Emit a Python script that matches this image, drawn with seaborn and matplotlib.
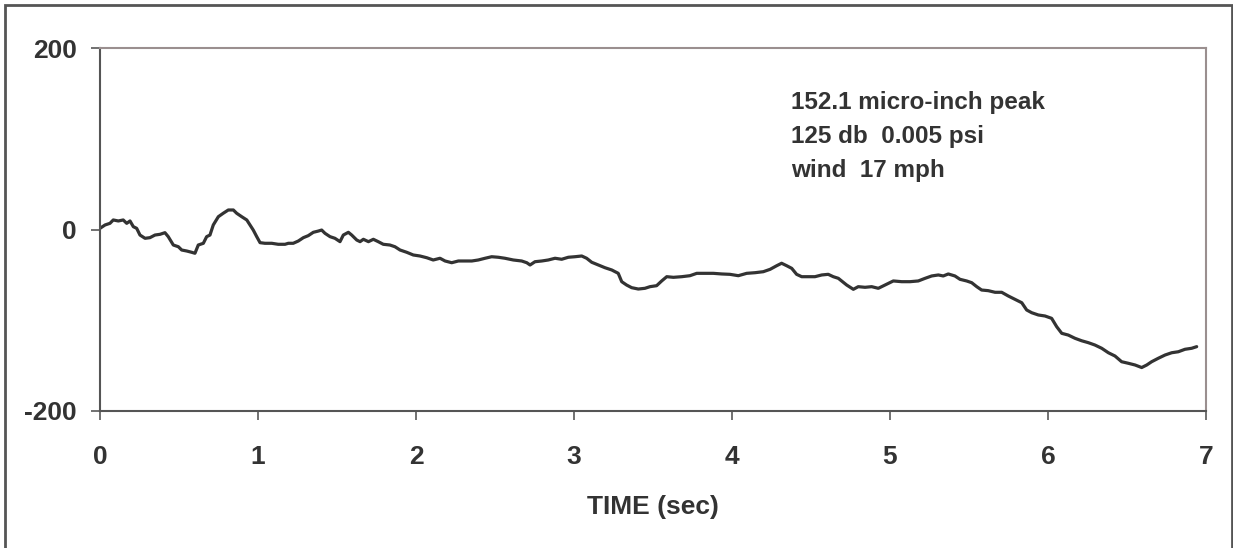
import matplotlib
matplotlib.use("Agg")
import matplotlib.pyplot as plt
import seaborn as sns
import pandas as pd
from matplotlib.patches import Rectangle

# ---- data ----
time_s = [
    0.000, 0.032, 0.063, 0.084, 0.116, 0.147, 0.169, 0.190, 0.211, 0.232,
    0.253, 0.285, 0.316, 0.348, 0.380, 0.411, 0.432, 0.464, 0.496, 0.517,
    0.549, 0.580, 0.601, 0.622, 0.654, 0.675, 0.696, 0.717, 0.749, 0.780,
    0.812, 0.844, 0.865, 0.897, 0.929, 0.949, 0.970, 0.992, 1.013, 1.044,
    1.087, 1.128, 1.171, 1.192, 1.223, 1.255, 1.287, 1.318, 1.350, 1.382,
    1.403, 1.424, 1.456, 1.487, 1.519, 1.540, 1.572, 1.593, 1.625, 1.646,
    1.667, 1.699, 1.730, 1.761, 1.793, 1.835, 1.867, 1.899, 1.941, 1.983,
    2.025, 2.068, 2.109, 2.152, 2.184, 2.226, 2.268, 2.310, 2.353, 2.394,
    2.437, 2.479, 2.521, 2.563, 2.616, 2.669, 2.701, 2.722, 2.753, 2.796,
    2.837, 2.880, 2.922, 2.964, 3.006, 3.049, 3.080, 3.112, 3.154, 3.196,
    3.239, 3.280, 3.302, 3.333, 3.365, 3.407, 3.449, 3.481, 3.523, 3.555,
    3.587, 3.629, 3.682, 3.734, 3.777, 3.829, 3.882, 3.935, 3.987, 4.040,
    4.093, 4.146, 4.198, 4.241, 4.283, 4.314, 4.346, 4.378, 4.409, 4.441,
    4.483, 4.525, 4.568, 4.609, 4.641, 4.673, 4.726, 4.768, 4.799, 4.842,
    4.884, 4.926, 4.968, 5.021, 5.074, 5.127, 5.179, 5.222, 5.264, 5.306,
    5.337, 5.369, 5.411, 5.443, 5.485, 5.517, 5.549, 5.580, 5.622, 5.665,
    5.707, 5.749, 5.791, 5.834, 5.865, 5.897, 5.939, 5.981, 6.023, 6.055,
    6.087, 6.128, 6.171, 6.213, 6.255, 6.297, 6.340, 6.382, 6.424, 6.466,
    6.508, 6.551, 6.593, 6.625, 6.656, 6.698, 6.741, 6.783, 6.825, 6.867,
    6.909, 6.941,
]
displacement = [
    1.3, 5.0, 6.8, 10.5, 9.4, 10.5, 6.8, 9.4, 3.1, 1.3,
    -6.1, -9.7, -9.0, -6.1, -5.3, -3.5, -7.9, -17.1, -19.0, -22.6,
    -23.7, -25.1, -26.2, -17.1, -15.2, -7.9, -6.1, 5.0, 14.1, 17.9,
    21.5, 21.5, 17.9, 14.1, 10.5, 5.0, -0.6, -7.9, -14.5, -15.2,
    -15.2, -16.3, -16.3, -15.2, -15.2, -12.7, -9.0, -6.8, -3.1, -1.7,
    -0.6, -4.2, -7.9, -9.7, -13.4, -6.1, -3.1, -6.1, -11.6, -13.4,
    -10.8, -13.4, -10.8, -13.4, -16.3, -17.1, -19.0, -22.6, -25.1, -28.1,
    -29.2, -31.1, -33.6, -31.7, -34.7, -36.6, -34.7, -34.7, -34.7, -33.6,
    -31.7, -30.0, -30.6, -31.7, -33.6, -34.7, -36.6, -39.1, -35.5, -34.7,
    -33.6, -31.7, -32.8, -30.6, -30.0, -29.2, -31.7, -36.1, -39.1, -42.1,
    -44.6, -48.3, -57.5, -61.2, -64.1, -65.6, -64.8, -63.0, -61.9, -56.7,
    -52.0, -52.7, -52.0, -50.9, -48.3, -48.3, -48.3, -49.0, -49.4, -50.9,
    -48.3, -47.6, -46.5, -43.9, -39.9, -37.2, -39.9, -42.8, -49.4, -52.0,
    -52.0, -52.0, -50.1, -49.4, -52.0, -53.8, -61.2, -65.9, -63.0, -63.7,
    -63.0, -64.8, -61.2, -56.7, -57.5, -57.5, -56.7, -53.8, -51.2, -50.1,
    -51.2, -49.0, -51.2, -54.9, -56.7, -58.6, -63.0, -66.7, -67.4, -69.2,
    -69.2, -73.3, -76.9, -80.7, -88.7, -91.7, -94.2, -95.3, -97.9, -107.1,
    -114.4, -116.3, -119.9, -122.6, -124.7, -127.3, -130.9, -135.8, -139.4, -145.7,
    -147.4, -149.3, -152.1, -149.3, -145.7, -141.9, -138.3, -135.8, -134.7, -132.0,
    -130.9, -129.1,
]
x_ticks = [0, 1, 2, 3, 4, 5, 6, 7]
y_ticks = [-200, 0, 200]
x_label = "TIME (sec)"
notes = ["152.1 micro-inch peak", "125 db  0.005 psi", "wind  17 mph"]

# ---- style ----
sns.set_theme(style="white")
plt.rcParams["font.family"] = ["Liberation Sans", "DejaVu Sans"]
plt.rcParams["font.weight"] = "bold"

df = pd.DataFrame({"t": time_s, "d": displacement})

W, H = 1233, 548
fig = plt.figure(figsize=(W / 100, H / 100), dpi=100)
L, R, T, B = 100, 1206, 48, 411
ax = fig.add_axes([L / W, 1 - B / H, (R - L) / W, (B - T) / H])

sns.lineplot(data=df, x="t", y="d", ax=ax, color="#333333", linewidth=2.3,
             estimator=None, sort=False)

ax.set_xlim(0, 7)
ax.set_ylim(-200, 200)
ax.set_xticks(x_ticks)
ax.set_yticks(y_ticks)
ax.set_xticklabels([str(v) for v in x_ticks])
ax.set_yticklabels([str(v) for v in y_ticks])
ax.set_xlabel(x_label, fontsize=19, fontweight="bold", color="#333333", labelpad=19)
ax.set_ylabel("")

ax.tick_params(axis="both", which="major", direction="out", length=6.5, width=1.3,
               labelsize=19, labelcolor="#333333", color="#666666", pad=10,
               bottom=True, left=True)
ax.tick_params(axis="x", pad=18)
for lab in ax.get_xticklabels() + ax.get_yticklabels():
    lab.set_fontweight("bold")

for side in ["left", "bottom"]:
    ax.spines[side].set_color("#555555")
    ax.spines[side].set_linewidth(1.5)
for side in ["top", "right"]:
    ax.spines[side].set_color("#9a8f8f")
    ax.spines[side].set_linewidth(1.5)
ax.grid(False)

ys = [103, 137, 170]
for txt, yp in zip(notes, ys):
    ax.text((791 - L) / (R - L), 1 - (yp - T) / (B - T), txt, transform=ax.transAxes,
            fontsize=17.5, fontweight="bold", color="#333333", ha="left", va="center")

# outer frame
fig.patches.append(Rectangle((4.5 / W, -0.05), (1231.5 - 4.5) / W, 1 - 4.5 / H + 0.05,
                             transform=fig.transFigure, fill=False,
                             edgecolor="#555555", linewidth=2))

fig.savefig("out.png", dpi=100)
